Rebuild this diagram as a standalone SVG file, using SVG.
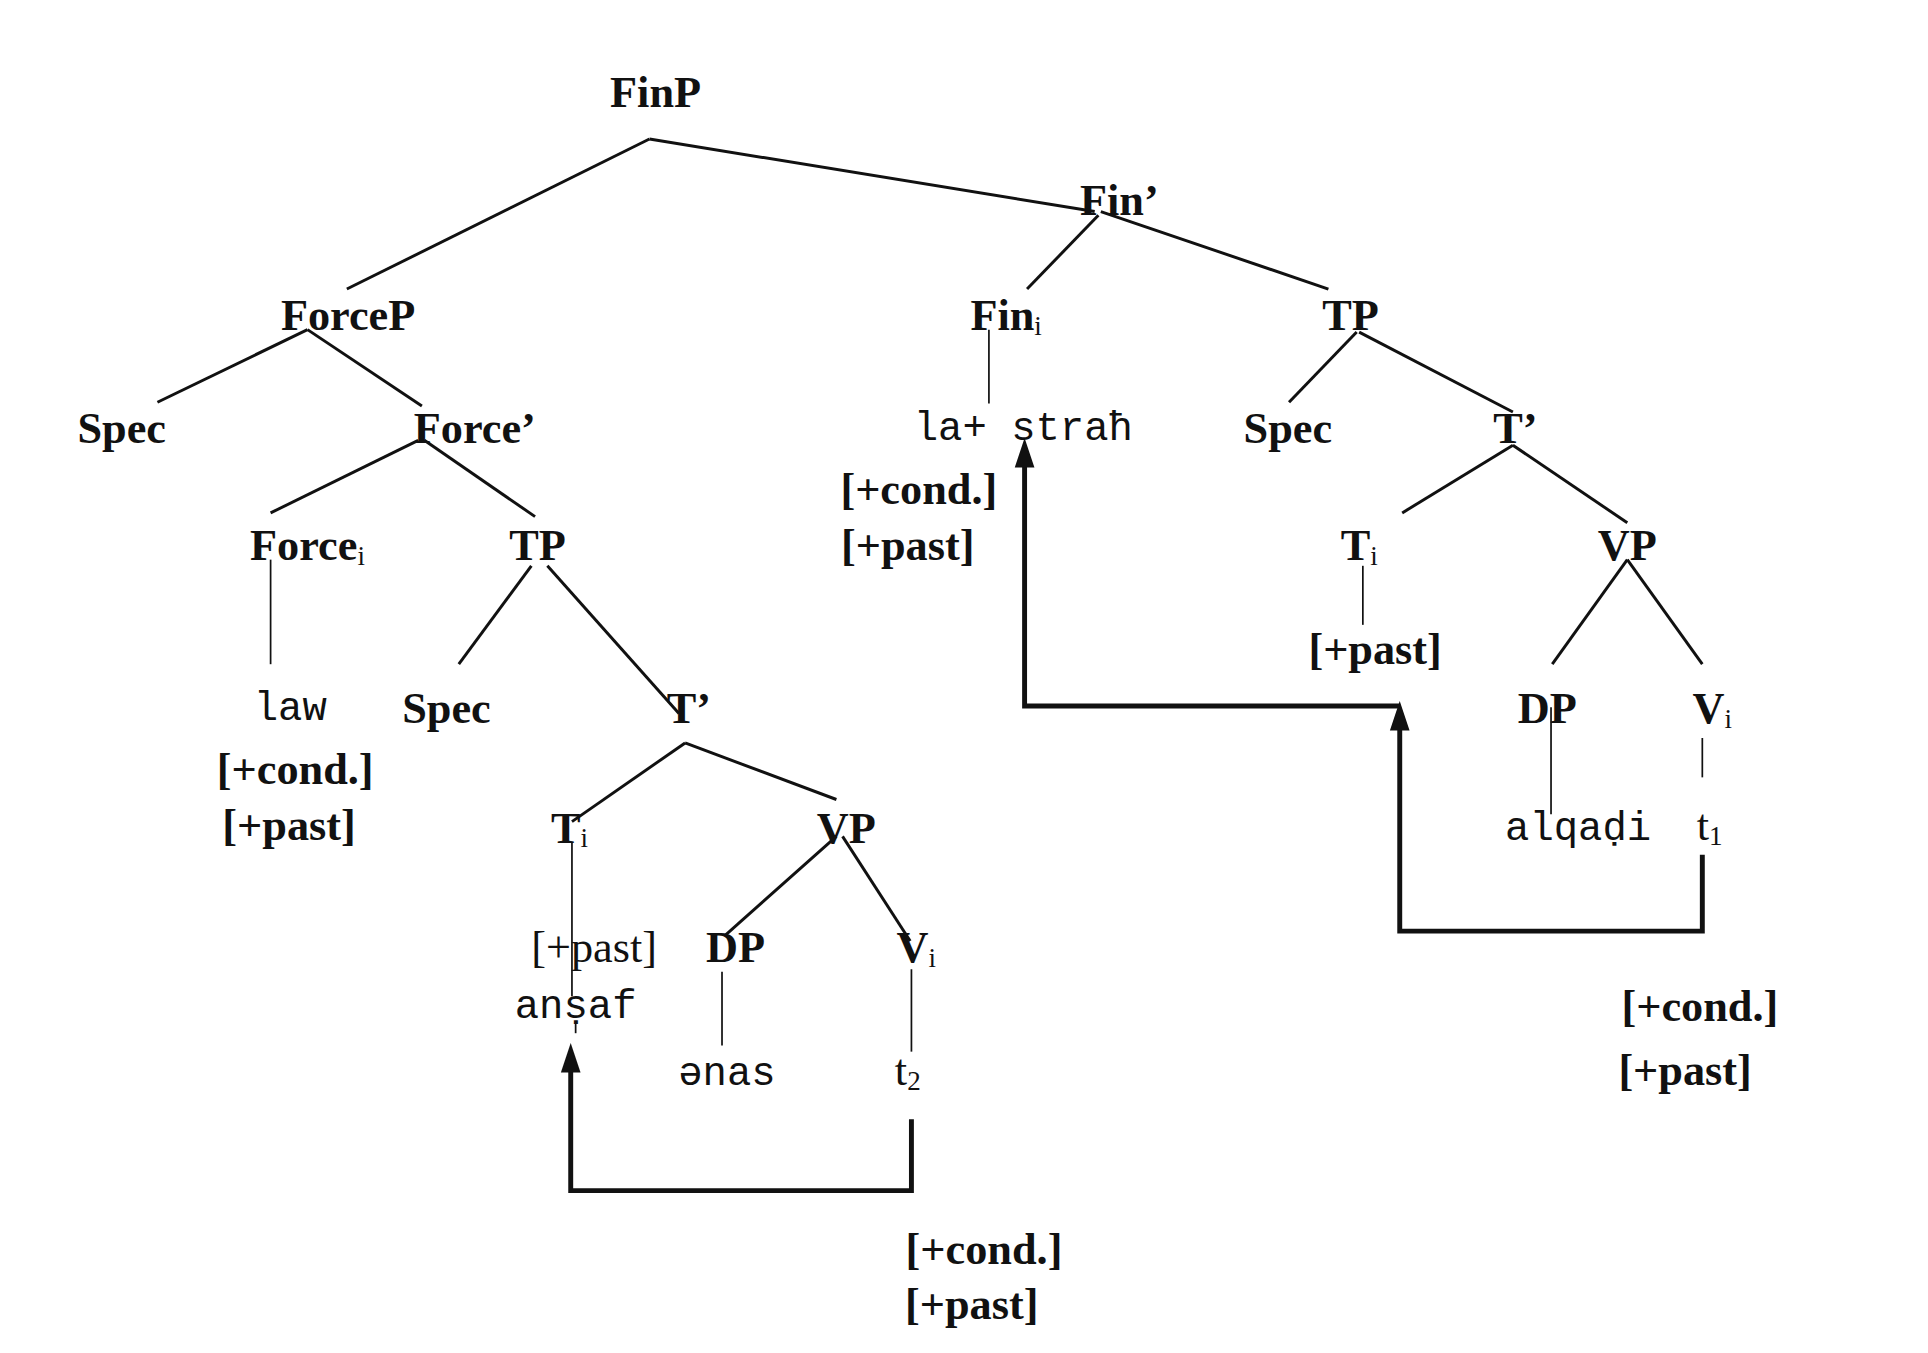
<svg xmlns="http://www.w3.org/2000/svg" width="1928" height="1353" viewBox="0 0 1928 1353">
<style>
.n{font-family:"Liberation Serif",serif;font-weight:bold;font-size:36px;text-anchor:middle;fill:#111}
.r{font-family:"Liberation Serif",serif;font-size:36px;text-anchor:middle;fill:#111}
.m{font-family:"Liberation Mono",monospace;font-size:33px;text-anchor:middle;fill:#111}
.s{font-size:22px;font-weight:normal}
.e line{stroke:#111;stroke-width:2.4}
.e .t{stroke-width:1.4}
.a{fill:none;stroke:#111;stroke-width:4}
</style>
<rect width="1928" height="1353" fill="#fff"/>
<g transform="scale(1.23)">
<g id="connectors" class="e">
<line x1="528" y1="113" x2="282" y2="235"/>
<line x1="528" y1="113" x2="890" y2="172"/>
<line x1="893" y1="175" x2="835" y2="235"/>
<line x1="895" y1="172" x2="1080" y2="235"/>
<line x1="250" y1="268" x2="128" y2="327"/>
<line x1="250" y1="268" x2="343" y2="330"/>
<line class="t" x1="804" y1="268" x2="804" y2="328"/>
<line x1="1103" y1="270" x2="1048" y2="327"/>
<line x1="1105" y1="270" x2="1230" y2="335"/>
<line x1="340" y1="358" x2="220" y2="417"/>
<line x1="345" y1="358" x2="435" y2="420"/>
<line x1="1230" y1="362" x2="1140" y2="417"/>
<line x1="1230" y1="362" x2="1323" y2="425"/>
<line class="t" x1="220" y1="455" x2="220" y2="540"/>
<line x1="432" y1="460" x2="373" y2="540"/>
<line x1="445" y1="460" x2="552" y2="580"/>
<line class="t" x1="1108" y1="460" x2="1108" y2="508"/>
<line x1="1323" y1="455" x2="1262" y2="540"/>
<line x1="1323" y1="455" x2="1384" y2="540"/>
<line class="t" x1="1261" y1="575" x2="1261" y2="662"/>
<line class="t" x1="1384" y1="600" x2="1384" y2="632"/>
<line x1="557" y1="604" x2="465" y2="668"/>
<line x1="557" y1="604" x2="680" y2="650"/>
<line class="t" x1="465" y1="685" x2="465" y2="810"/>
<line x1="680" y1="680" x2="590" y2="760"/>
<line x1="685" y1="680" x2="740" y2="765"/>
<line class="t" x1="587" y1="790" x2="587" y2="850"/>
<line class="t" x1="741" y1="788" x2="741" y2="855"/>
<line class="t" x1="468" y1="832" x2="468" y2="840"/>
<path class="a" d="M741 910V968H464V870"/>
<path d="M464 848L456 872H472Z" fill="#111"/>
<path class="a" d="M1384 695V757H1138V592"/>
<path d="M1138 570L1130 594H1146Z" fill="#111"/>
<path class="a" d="M1138 574H833V378"/>
<path d="M833 356L825 380H841Z" fill="#111"/>
</g>
<g id="FinP"><text class="n" x="533" y="87">FinP</text></g>
<g id="FinBar"><text class="n" x="910" y="175">Fin’</text></g>
<g id="ForceP"><text class="n" x="283" y="268">ForceP</text></g>
<g id="Fin_i"><text class="n" x="818" y="268">Fin<tspan class="s" dy="4">i</tspan></text></g>
<g id="TP1"><text class="n" x="1098" y="268">TP</text></g>
<g id="Spec1"><text class="n" x="99" y="360">Spec</text></g>
<g id="ForceBar"><text class="n" x="386" y="360">Force’</text></g>
<g id="lastrah"><text class="m" x="832" y="358">la+ straħ</text>
<text class="n" x="747" y="410">[+cond.]</text><text class="n" x="738" y="455">[+past]</text></g>
<g id="Spec2"><text class="n" x="1047" y="360">Spec</text></g>
<g id="TBar1"><text class="n" x="1232" y="360">T’</text></g>
<g id="Force_i"><text class="n" x="250" y="455">Force<tspan class="s" dy="4">i</tspan></text></g>
<g id="TP2"><text class="n" x="437" y="455">TP</text></g>
<g id="T_i1"><text class="n" x="1105" y="455">T<tspan class="s" dy="4">i</tspan></text>
<text class="n" x="1118" y="540">[+past]</text></g>
<g id="VP1"><text class="n" x="1323" y="455">VP</text></g>
<g id="law"><text class="m" x="236" y="585">law</text>
<text class="n" x="240" y="637">[+cond.]</text><text class="n" x="235" y="683">[+past]</text></g>
<g id="Spec3"><text class="n" x="363" y="588">Spec</text></g>
<g id="TBar2"><text class="n" x="560" y="588">T’</text></g>
<g id="DP1"><text class="n" x="1258" y="588">DP</text></g>
<g id="V_i1"><text class="n" x="1392" y="588">V<tspan class="s" dy="4">i</tspan></text></g>
<g id="alqadi"><text class="m" x="1283" y="683">alqaḍi</text></g>
<g id="t1"><text class="r" x="1390" y="683">t<tspan class="s" dy="4">1</tspan></text>
<text class="n" x="1382" y="830">[+cond.]</text><text class="n" x="1370" y="882">[+past]</text></g>
<g id="T_i2"><text class="n" x="463" y="685">T<tspan class="s" dy="4">i</tspan></text></g>
<g id="VP2"><text class="n" x="688" y="685">VP</text></g>
<g id="past2"><text class="r" x="483" y="782">[+past]</text><text class="m" x="468" y="828">anṣaf</text></g>
<g id="DP2"><text class="n" x="598" y="782">DP</text></g>
<g id="V_i2"><text class="n" x="745" y="782">V<tspan class="s" dy="4">i</tspan></text></g>
<g id="enas"><text class="m" x="591" y="882">ənas</text></g>
<g id="t2"><text class="r" x="738" y="882">t<tspan class="s" dy="4">2</tspan></text>
<text class="n" x="800" y="1028">[+cond.]</text><text class="n" x="790" y="1072">[+past]</text></g>
</g>
</svg>
